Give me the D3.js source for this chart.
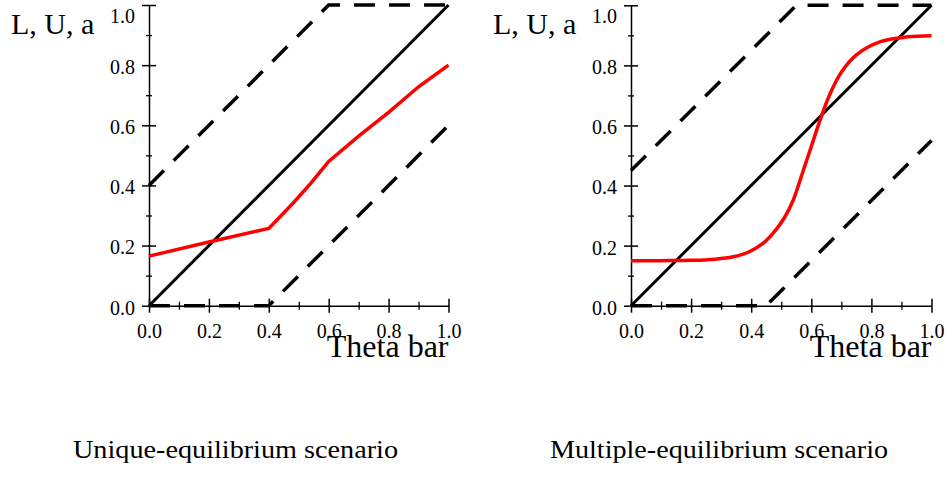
<!DOCTYPE html>
<html>
<head>
<meta charset="utf-8">
<script src="https://cdn.jsdelivr.net/npm/d3@7"></script>
<style>
  body { margin: 0; background: #fff; }
  svg { display: block; }
  svg text { font-family: "Liberation Serif", "Times New Roman", serif; fill: #000; }
</style>
</head>
<body>
<div id="graphArea"></div>
<script>
// tick values
var majorTicks = [0, 0.2, 0.4, 0.6, 0.8, 1.0];
var minorTicks = [0.1, 0.3, 0.5, 0.7, 0.9];

// diagonal (45 degree line)
var diagX = [0, 1];
var diagY = [0, 1];

// unique-equilibrium panel
var uniqUpperX = [0, 0.6, 1];
var uniqUpperY = [0.4, 1, 1];
var uniqLowerX = [0, 0.4, 1];
var uniqLowerY = [0, 0, 0.6];
var uniqRedX = [0, 0.2, 0.4, 0.48, 0.54, 0.6, 0.7, 0.8, 0.9, 1.0];
var uniqRedY = [0.165, 0.212, 0.257, 0.34, 0.407, 0.48, 0.564, 0.643, 0.728, 0.80];

// multiple-equilibrium panel
var multUpperX = [0, 0.55, 1];
var multUpperY = [0.45, 1, 1];
var multLowerX = [0, 0.45, 1];
var multLowerY = [0, 0, 0.55];
var multRedX = [0, 0.1, 0.2, 0.28, 0.34, 0.39, 0.44, 0.48, 0.51, 0.54, 0.57, 0.6, 0.63, 0.66, 0.7, 0.75, 0.83, 0.92, 1.0];
var multRedY = [0.15, 0.15, 0.151, 0.155, 0.163, 0.178, 0.208, 0.25, 0.292, 0.352, 0.44, 0.53, 0.62, 0.70, 0.777, 0.835, 0.879, 0.895, 0.899];

var yLabel = "L, U, a";
var xLabel = "Theta bar";
var titles = ["Unique-equilibrium scenario", "Multiple-equilibrium scenario"];

var serif = "'Liberation Serif', 'Times New Roman', serif";

function zip(xs, ys) { return xs.map(function(d, i) { return [d, ys[i]]; }); }

var svg = d3.select("#graphArea")
  .append("svg")
  .attr("width", 946)
  .attr("height", 504);

var panels = [
  { x0: 149, x1: 448.5, y0: 305.7, y1: 5, upper: zip(uniqUpperX, uniqUpperY), lower: zip(uniqLowerX, uniqLowerY), red: zip(uniqRedX, uniqRedY), curve: d3.curveLinear, title: titles[0], tx: 235.5, tw: 325 },
  { x0: 631, x1: 931.5, y0: 305.7, y1: 5.3, upper: zip(multUpperX, multUpperY), lower: zip(multLowerX, multLowerY), red: zip(multRedX, multRedY), curve: d3.curveCatmullRom.alpha(0.5), title: titles[1], tx: 719, tw: 338 }
];

panels.forEach(function(p) {
  var x = d3.scaleLinear().domain([0, 1]).range([p.x0, p.x1]);
  var y = d3.scaleLinear().domain([0, 1]).range([p.y0, p.y1]);
  var g = svg.append("g");

  // y axis minor ticks
  var yMinor = g.append("g")
    .attr("transform", "translate(" + x(0) + ",0)")
    .call(d3.axisLeft(y).tickValues(minorTicks).tickSize(3).tickSizeOuter(0).tickFormat(""));
  yMinor.select(".domain").remove();
  yMinor.selectAll(".tick line").attr("x1", -3).attr("x2", 3).attr("stroke-width", 1.3);

  // y axis major
  var yAx = g.append("g")
    .attr("transform", "translate(" + x(0) + ",0)")
    .call(d3.axisLeft(y).tickValues(majorTicks).tickSize(6).tickSizeOuter(0).tickFormat(d3.format(".1f")))
    .attr("font-family", serif)
    .attr("font-size", 20);
  yAx.select(".domain").attr("stroke-width", 1.5);
  yAx.selectAll(".tick line").attr("x1", -7).attr("x2", 7).attr("stroke-width", 1.5);
  yAx.selectAll(".tick text")
    .attr("x", -14)
    .attr("dy", function(d) { return d === 1 ? "0.85em" : "0.42em"; })
    .attr("font-family", serif);

  // x axis minor ticks
  var xMinor = g.append("g")
    .attr("transform", "translate(0," + y(0) + ")")
    .call(d3.axisBottom(x).tickValues(minorTicks).tickSize(3).tickSizeOuter(0).tickFormat(""));
  xMinor.select(".domain").remove();
  xMinor.selectAll(".tick line").attr("y1", -4).attr("y2", 4).attr("stroke-width", 1.3);

  // x axis major
  var xAx = g.append("g")
    .attr("transform", "translate(0," + y(0) + ")")
    .call(d3.axisBottom(x).tickValues(majorTicks).tickSize(6).tickSizeOuter(0).tickFormat(d3.format(".1f")))
    .attr("font-family", serif)
    .attr("font-size", 20);
  xAx.select(".domain").attr("stroke-width", 1.5);
  xAx.selectAll(".tick line").attr("y1", -7).attr("y2", 7).attr("stroke-width", 1.5);
  xAx.selectAll(".tick text")
    .attr("y", 32.5)
    .attr("dy", "0")
    .attr("font-family", serif);

  var line = d3.line().x(function(d) { return x(d[0]); }).y(function(d) { return y(d[1]); });

  // dashed bounds
  [p.upper, p.lower].forEach(function(d) {
    g.append("path")
      .datum(d)
      .attr("d", line)
      .attr("fill", "none")
      .attr("stroke", "#000")
      .attr("stroke-width", 3.5)
      .attr("stroke-dasharray", "21,14");
  });

  // 45 degree line
  g.append("path")
    .datum(zip(diagX, diagY))
    .attr("d", line)
    .attr("fill", "none")
    .attr("stroke", "#000")
    .attr("stroke-width", 3);

  // red curve
  g.append("path")
    .datum(p.red)
    .attr("d", d3.line().x(function(d) { return x(d[0]); }).y(function(d) { return y(d[1]); }).curve(p.curve))
    .attr("fill", "none")
    .attr("stroke", "#ff0000")
    .attr("stroke-width", 3.5);

  // labels
  g.append("text")
    .attr("x", x(0) - 138)
    .attr("y", 34)
    .attr("font-family", serif)
    .style("font-size", "30px")
    .text(yLabel);

  g.append("text")
    .attr("x", x(1))
    .attr("y", 357)
    .attr("text-anchor", "end")
    .attr("font-family", serif)
    .style("font-size", "32px")
    .text(xLabel);

  g.append("text")
    .attr("x", p.tx)
    .attr("y", 458)
    .attr("text-anchor", "middle")
    .attr("textLength", p.tw)
    .attr("lengthAdjust", "spacingAndGlyphs")
    .attr("font-family", serif)
    .style("font-size", "26px")
    .text(p.title);
});
</script>
</body>
</html>
